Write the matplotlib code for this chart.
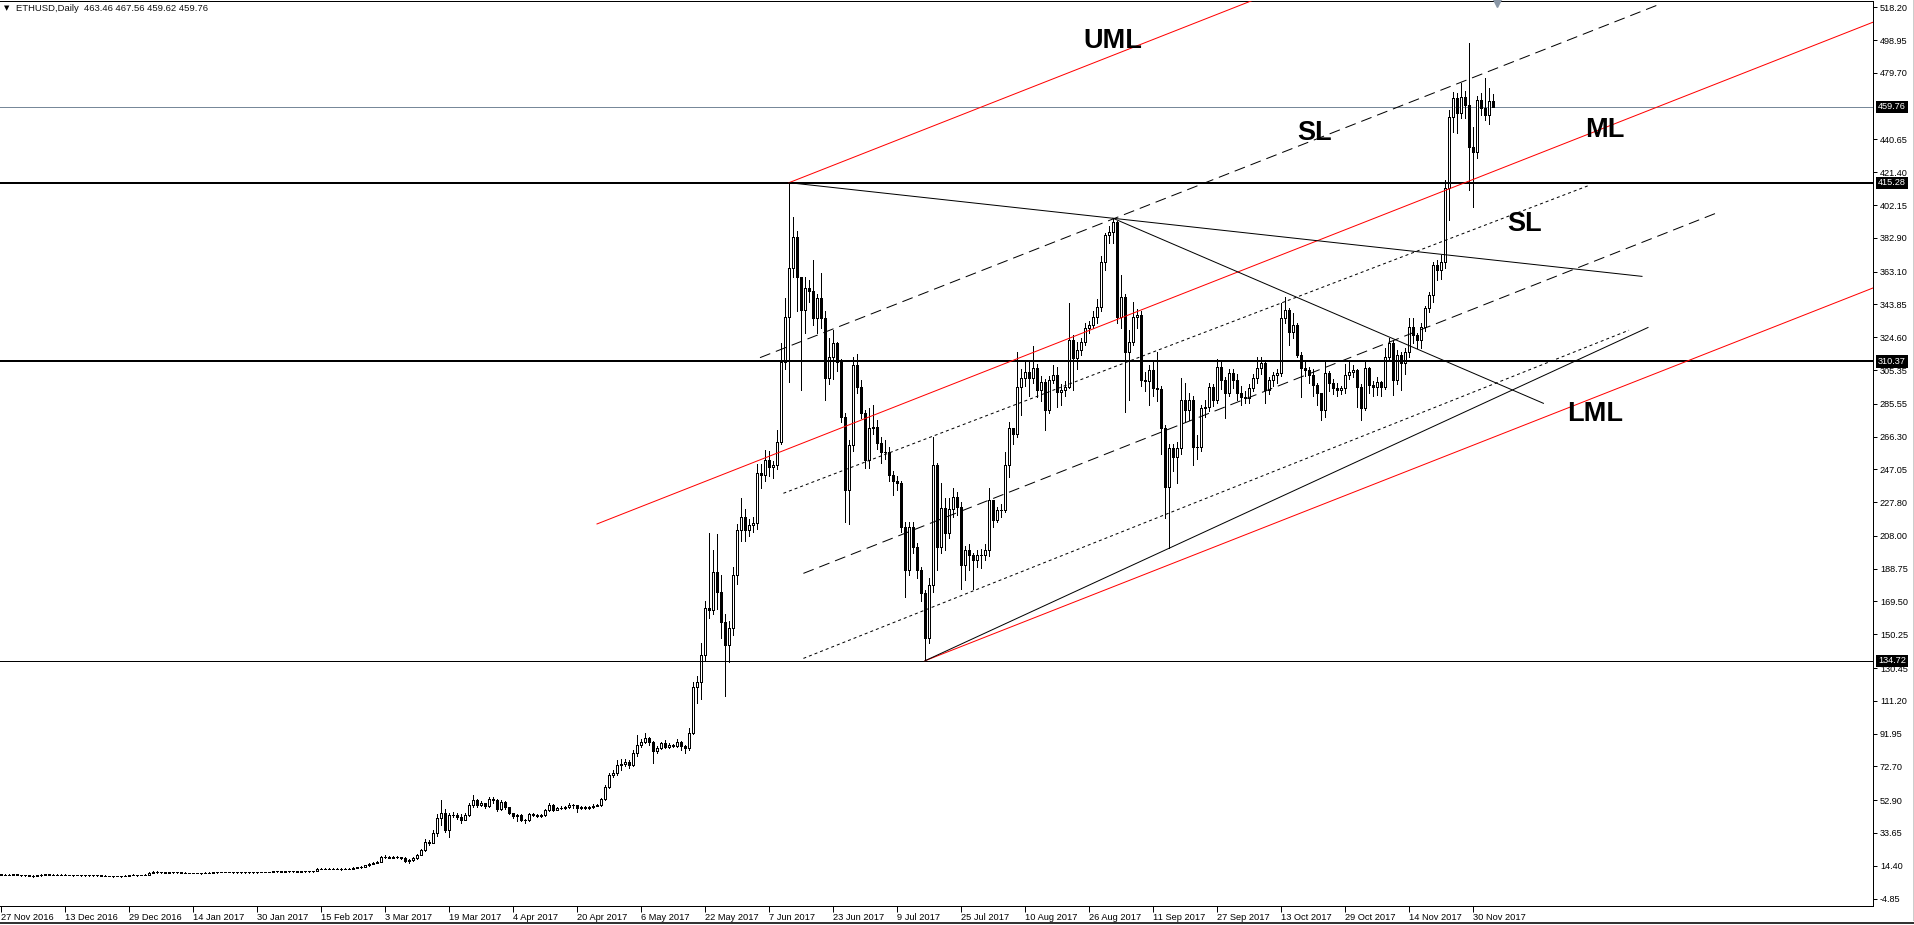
import numpy as np
import pandas as pd
import matplotlib
matplotlib.use("Agg")
import matplotlib.pyplot as plt
from matplotlib import transforms

plt.rcParams["font.family"] = ["Liberation Sans", "DejaVu Sans"]

# ---- ETHUSD daily candles (open = previous close) ----
FIRST_DAY = "2016-11-27"
FIRST_OPEN = 9.4

# 27 Nov - 31 Dec 2016
close_16 = [9.2, 9.0, 9.1, 9.3,
            9.1, 8.8, 8.7, 8.6, 8.4, 8.7, 9.2, 9.3, 9.2, 9.0, 9.1, 9.2, 9.1, 9.0, 8.8, 8.9,
            8.8, 8.8, 8.7, 8.7, 8.8, 8.6, 8.4, 8.4, 8.3, 8.4, 8.3, 8.5, 8.9, 9.0, 8.8]
high_16 = [9.5, 9.3, 9.3, 9.6,
           9.4, 9.2, 9.0, 8.9, 8.8, 8.9, 9.6, 9.7, 9.5, 9.3, 9.3, 9.5, 9.4, 9.2, 9.1, 9.1,
           9.0, 9.0, 8.9, 8.9, 9.0, 8.9, 8.7, 8.6, 8.6, 8.6, 8.5, 8.7, 9.2, 9.3, 9.1]
low_16 = [8.9, 8.8, 8.8, 9.0,
          8.9, 8.6, 8.5, 8.3, 8.1, 8.3, 8.6, 9.0, 8.9, 8.8, 8.9, 8.9, 8.9, 8.8, 8.6, 8.7,
          8.6, 8.6, 8.5, 8.5, 8.6, 8.4, 8.2, 8.2, 8.1, 8.2, 8.1, 8.2, 8.4, 8.7, 8.6]

# Jan - Mar 2017
close_q1 = [9.0, 9.1, 10.3, 11.0, 10.6, 10.7, 10.4, 10.6, 10.5, 10.6, 10.3, 10.2, 10.2, 10.1, 10.1, 10.0,
            10.3, 10.4, 10.5, 10.6, 10.8, 10.7, 10.7, 10.5, 10.6, 10.6, 10.5, 10.5, 10.5, 10.6, 10.7,
            10.8, 10.8, 11.1, 11.1, 11.0, 11.1, 11.2, 11.1, 10.9, 11.2, 11.2, 11.2, 11.2, 12.8,
            12.7, 12.8, 12.7, 12.8, 12.8, 12.5, 12.7, 12.8, 13.1, 13.4, 13.8, 14.6, 15.4, 16.0,
            16.8, 19.7, 19.5, 19.2, 19.5, 19.6, 19.2, 17.0, 17.6, 18.7, 20.7, 23.7, 28.6, 28.0,
            33.4, 42.2, 45.5, 35.4, 44.2, 44.2, 43.2, 41.3, 44.2, 50.1, 53.0, 50.1, 51.0, 49.5,
            53.4, 53.2, 47.5]
high_q1 = [9.2, 9.3, 10.6, 11.6, 11.1, 11.0, 10.8, 10.9, 10.8, 10.9, 10.7, 10.5, 10.4, 10.4, 10.3, 10.3,
           10.5, 10.6, 10.7, 10.8, 11.0, 11.0, 10.9, 10.8, 10.8, 10.8, 10.7, 10.7, 10.7, 10.8, 10.9,
           11.0, 11.0, 11.4, 11.4, 11.3, 11.4, 11.5, 11.4, 11.2, 11.4, 11.4, 11.4, 11.5, 13.2,
           13.1, 13.1, 13.0, 13.1, 13.1, 12.9, 13.0, 13.1, 13.4, 13.8, 14.3, 15.0, 15.9, 16.5,
           17.5, 20.3, 20.5, 19.9, 19.9, 20.2, 19.8, 19.3, 18.4, 19.4, 21.4, 24.3, 30.0, 29.5,
           35.5, 45.0, 53.0, 47.5, 45.5, 46.0, 45.5, 44.5, 45.5, 51.5, 55.9, 53.5, 52.5, 51.5,
           54.5, 54.8, 53.5]
low_q1 = [8.7, 8.9, 9.0, 10.1, 10.2, 10.4, 10.2, 10.3, 10.3, 10.3, 10.1, 10.0, 10.0, 9.9, 9.9, 9.8,
          10.0, 10.2, 10.3, 10.4, 10.5, 10.5, 10.5, 10.3, 10.4, 10.4, 10.3, 10.3, 10.3, 10.4, 10.5,
          10.6, 10.6, 10.7, 10.9, 10.8, 10.9, 11.0, 10.9, 10.6, 10.8, 11.0, 11.0, 11.0, 11.1,
          12.4, 12.5, 12.4, 12.5, 12.5, 12.2, 12.4, 12.5, 12.7, 13.0, 13.3, 13.7, 14.4, 15.2,
          15.8, 16.6, 18.8, 18.7, 18.9, 19.1, 18.6, 16.6, 16.2, 17.3, 18.5, 20.5, 22.8, 26.8,
          27.5, 32.0, 38.3, 34.0, 31.5, 42.8, 42.0, 39.5, 41.0, 43.8, 49.0, 49.0, 49.5, 48.5,
          49.0, 51.5, 46.5]

# Apr - Jun 2017
close_q2 = [52.0, 48.7, 45.2, 43.6, 44.0, 41.3, 41.0, 44.8, 44.2, 43.8, 44.0, 47.1, 50.1, 47.1, 48.6,
            48.5, 48.7, 50.1, 49.8, 48.1, 49.0, 48.6, 48.7, 49.7, 49.8, 53.4, 60.8, 67.7, 68.7, 73.5,
            74.1, 75.5, 73.5, 80.4, 85.3, 87.2, 89.2, 87.2, 81.9, 83.3, 86.3, 84.3, 85.3, 84.8, 87.2,
            84.7, 83.3, 92.1, 119.5, 122.4, 138.1, 165.5, 164.5, 187.0, 175.2, 157.6, 144.0, 153.8,
            185.0, 211.5, 219.3,
            211.5, 214.4, 215.5, 244.7, 244.0, 252.5, 248.6, 249.5, 263.3, 310.2, 336.6, 365.0, 383.6,
            360.1, 340.6, 353.3, 352.0, 335.7, 347.4, 335.7, 300.5, 313.2, 321.0, 310.2, 277.9, 234.9,
            261.3, 308.3, 295.6, 279.9]
high_q2 = [53.0, 52.5, 49.0, 45.5, 45.0, 44.5, 42.0, 45.5, 45.5, 44.8, 44.8, 48.0, 51.0, 50.5, 49.0,
           49.2, 49.3, 51.5, 50.8, 50.0, 49.6, 49.3, 49.2, 50.5, 50.6, 54.2, 62.0, 69.0, 70.5, 76.5,
           77.0, 77.0, 76.5, 82.5, 91.0, 89.0, 92.1, 89.8, 87.5, 84.5, 87.2, 88.5, 86.2, 86.0, 89.0,
           87.8, 85.0, 95.0, 122.0, 126.0, 145.0, 170.0, 209.5, 199.7, 209.0, 185.0, 162.0, 158.0,
           190.0, 215.0, 230.0,
           224.0, 218.0, 219.0, 250.0, 250.0, 258.5, 258.0, 252.0, 270.0, 321.0, 347.5, 415.28, 395.3,
           387.0, 360.0, 360.0, 358.0, 370.0, 350.0, 362.0, 340.0, 324.0, 329.0, 322.0, 312.0, 280.0,
           264.0, 313.0, 315.0, 299.5]
low_q2 = [47.0, 48.0, 44.5, 42.5, 40.9, 40.5, 39.5, 40.5, 43.5, 43.0, 43.2, 43.5, 46.5, 46.5, 47.0,
          47.8, 48.0, 48.2, 48.2, 46.1, 47.5, 47.8, 47.9, 48.3, 49.2, 49.5, 52.8, 60.0, 66.5, 67.5,
          70.5, 73.0, 72.0, 73.0, 79.0, 84.0, 86.5, 85.5, 74.9, 80.5, 82.8, 83.5, 83.5, 84.0, 84.0,
          82.5, 80.4, 82.5, 91.5, 110.0, 112.0, 135.0, 160.0, 162.0, 165.0, 148.0, 114.0, 134.0,
          150.0, 180.0, 205.0,
          205.0, 208.0, 210.0, 212.0, 236.0, 240.0, 243.0, 242.0, 247.0, 262.0, 306.0, 298.5, 360.0,
          340.0, 293.6, 327.0, 345.0, 332.0, 327.0, 330.0, 288.0, 297.0, 300.0, 305.0, 275.0, 216.3,
          215.0, 258.0, 292.0, 277.0]

# Jul - Sep 2017
close_q3 = [252.5, 271.1, 272.0, 262.3, 257.4, 257.0, 243.7, 240.0, 239.0, 213.4, 188.0, 213.4, 201.6,
            188.0, 174.3, 147.9, 179.2, 249.6, 201.6, 224.2, 209.5, 224.0, 231.0, 225.0, 190.9, 199.7,
            196.8, 193.8, 196.5, 197.0, 199.7,
            229.1, 217.3, 223.2, 223.0, 249.6, 271.1, 268.0, 295.6, 300.5, 304.4, 300.5, 306.3, 293.6,
            298.5, 281.8, 299.5, 302.4, 292.6, 293.6, 295.6, 322.9, 312.2, 317.1, 322.0, 329.8, 331.8,
            336.6, 342.5, 369.0, 384.6, 386.5,
            392.4, 336.6, 348.4, 316.1, 322.0, 336.6, 337.6, 299.5, 299.0, 305.3, 294.6, 294.0, 271.1,
            236.9, 259.4, 254.5, 259.4, 287.7, 281.9, 287.7, 260.4, 260.0, 282.8, 283.8, 295.6, 287.7,
            307.3, 299.5, 291.7, 303.4]
high_q3 = [282.0, 283.0, 285.0, 276.0, 266.0, 264.0, 260.0, 246.0, 243.0, 240.0, 216.0, 216.0, 216.0,
           204.0, 190.0, 176.0, 183.0, 266.0, 251.0, 239.0, 230.0, 230.0, 236.0, 234.0, 228.0, 202.0,
           203.0, 198.0, 200.0, 200.5, 203.0,
           236.0, 226.0, 225.0, 227.0, 257.4, 275.0, 271.5, 316.0, 306.0, 310.0, 311.0, 319.4, 309.0,
           302.0, 300.0, 302.0, 308.0, 307.0, 297.0, 299.0, 344.5, 326.0, 322.0, 324.0, 333.0, 334.0,
           340.0, 347.0, 372.0, 386.0, 390.0,
           394.4, 393.0, 361.0, 350.0, 329.0, 345.5, 341.0, 340.0, 304.0, 308.0, 311.2, 316.0, 296.0,
           273.0, 262.0, 262.0, 263.0, 300.5, 298.0, 292.0, 290.0, 267.0, 285.0, 288.0, 298.0, 297.0,
           312.0, 310.0, 301.0, 306.0]
low_q3 = [248.0, 248.0, 268.0, 259.0, 250.5, 253.0, 240.5, 232.0, 235.0, 210.0, 172.3, 185.0, 198.0,
          183.0, 170.0, 134.72, 145.0, 175.0, 188.0, 198.0, 200.0, 207.0, 219.0, 220.0, 177.0, 182.0,
          188.0, 177.0, 190.0, 189.0, 194.0,
          196.0, 213.0, 216.0, 219.0, 222.0, 242.7, 262.0, 266.0, 279.0, 296.0, 290.0, 298.0, 289.7,
          287.0, 270.0, 280.0, 298.0, 283.8, 284.8, 290.0, 295.0, 293.6, 306.0, 314.0, 320.0, 327.0,
          330.0, 333.0, 340.0, 364.0, 380.0,
          380.0, 333.0, 330.0, 280.9, 287.7, 320.0, 330.0, 296.0, 293.0, 284.8, 290.0, 287.0, 256.0,
          218.3, 200.7, 246.0, 238.8, 256.0, 275.0, 276.0, 249.6, 253.0, 258.0, 278.0, 281.0, 284.0,
          286.0, 294.0, 277.0, 290.0]

# Oct - 5 Dec 2017
close_q4 = [299.5, 291.7, 289.7, 288.7, 294.6, 300.5, 306.3, 309.3, 293.6, 299.5, 302.4, 303.4, 335.7,
            340.6, 327.8, 331.8, 314.2, 306.3, 305.4, 302.4, 296.6, 291.7, 281.9, 303.4, 297.5, 294.6,
            293.6, 294.6, 302.4, 304.4, 305.4,
            295.6, 282.9, 306.3, 296.6, 295.6, 298.5, 295.6, 313.2, 321.0, 299.5, 314.2, 309.3, 316.1,
            330.8, 325.9, 323.0, 330.8, 341.5, 349.4, 367.0, 364.0, 368.9, 412.0, 454.0, 464.8, 456.0,
            465.7, 460.9, 436.4, 433.5,
            463.8, 459.0, 455.0, 463.46, 459.76]
high_q4 = [306.0, 303.0, 296.0, 293.0, 297.0, 303.0, 313.0, 313.0, 310.0, 301.0, 304.0, 306.0, 344.5,
           348.4, 342.0, 339.0, 333.0, 316.0, 311.0, 307.0, 306.0, 298.0, 292.0, 310.0, 305.0, 300.0,
           298.0, 296.0, 309.0, 311.0, 308.0,
           306.0, 297.0, 310.0, 307.0, 299.0, 301.0, 299.0, 318.0, 324.0, 323.0, 317.0, 316.0, 318.0,
           335.7, 336.0, 327.0, 333.0, 343.0, 351.0, 369.0, 370.0, 373.0, 417.0, 458.0, 468.7, 468.0,
           473.7, 469.0, 497.0, 448.0,
           466.0, 468.0, 476.5, 470.6, 467.56]
low_q4 = [295.0, 288.0, 285.0, 286.0, 286.0, 293.0, 298.0, 303.0, 285.8, 291.0, 296.0, 298.0, 302.0,
          333.0, 320.0, 324.0, 313.0, 289.7, 302.0, 298.0, 290.0, 285.0, 276.0, 278.0, 293.0, 291.0,
          290.0, 291.0, 292.0, 300.0, 301.0,
          283.8, 276.0, 282.0, 292.0, 290.0, 290.7, 290.0, 294.0, 311.0, 290.7, 297.0, 293.6, 303.0,
          313.0, 321.0, 318.0, 318.0, 328.0, 339.6, 345.5, 358.0, 359.0, 365.0, 393.4, 445.0, 444.7,
          453.0, 453.0, 411.0, 401.2,
          430.0, 455.0, 452.0, 450.0, 459.62]

# right price scale labels and the marked levels
y_ticks = [518.20, 498.95, 479.70, 440.65, 421.40, 402.15, 382.90, 363.10, 343.85, 324.60,
           305.35, 285.55, 266.30, 247.05, 227.80, 208.00, 188.75, 169.50, 150.25, 130.45,
           111.20, 91.95, 72.70, 52.90, 33.65, 14.40, -4.85]
levels = [415.28, 310.37, 134.72]
bid = 459.76

# pitchfork pivots (day index, price)
fork_p1 = (149, 215.0)
fork_p2 = (197, 415.28)
fork_p3 = (231, 134.72)

# other drawn lines: (start day, start price, end day, end price)
sl_upper_dash = (189.75, 312.6, 414.0, 519.4)
sl_mid_dash = (200.6, 186.0, 429.0, 397.6)
sl_upper_dot = (195.6, 233.0, 397.25, 413.9)
sl_lower_dot = (200.6, 136.1, 407.0, 328.7)
trend_tops = (197.0, 415.28, 410.25, 360.3)
trend_sep = (278.0, 394.4, 385.6, 285.8)
trend_lows = (231.0, 134.72, 411.75, 330.3)

closes = np.array(close_16 + close_q1 + close_q2 + close_q3 + close_q4)
highs = np.array(high_16 + high_q1 + high_q2 + high_q3 + high_q4)
lows = np.array(low_16 + low_q1 + low_q2 + low_q3 + low_q4)
opens = np.concatenate([[FIRST_OPEN], closes[:-1]])
dates = pd.date_range(FIRST_DAY, periods=len(closes), freq="D")
idx = np.arange(len(closes))

PX = 0.72  # one screen pixel in points
W, H = 1915, 925
fig = plt.figure(figsize=(W / 100, H / 100), dpi=100)
ax = fig.add_axes([0, 1 - 906 / H, 1873 / W, 905 / H])
XMAX = 468.0
ax.set_xlim(-0.25, XMAX)
ax.set_ylim(-9.2, 521.9)

# --- candles ---
hi = np.maximum(highs, np.maximum(opens, closes))
lo = np.minimum(lows, np.minimum(opens, closes))
ax.vlines(idx, lo, hi, colors="black", lw=PX, antialiased=False, zorder=3)
up = closes >= opens
b_lo = np.minimum(opens, closes)
b_h = np.abs(closes - opens)
ax.bar(idx[up], b_h[up], bottom=b_lo[up], width=0.5, facecolor="white",
       edgecolor="black", lw=PX, antialiased=False, zorder=4)
ax.bar(idx[~up], b_h[~up], bottom=b_lo[~up], width=0.5, facecolor="black",
       edgecolor="black", lw=PX, antialiased=False, zorder=4)

# --- horizontal levels ---
ax.axhline(levels[0], color="black", lw=2 * PX, zorder=5)
ax.axhline(levels[1], color="black", lw=2 * PX, zorder=5)
ax.axhline(levels[2], color="black", lw=PX, zorder=5)
ax.axhline(bid, color="#778899", lw=PX, zorder=2)

# --- Andrews pitchfork ---
mid = ((fork_p2[0] + fork_p3[0]) / 2, (fork_p2[1] + fork_p3[1]) / 2)
slope = (mid[1] - fork_p1[1]) / (mid[0] - fork_p1[0])
for (x0, y0) in (fork_p1, fork_p2, fork_p3):
    ax.plot([x0, XMAX], [y0, y0 + slope * (XMAX - x0)], color="red", lw=PX, zorder=5)


def seg(line, **kw):
    x0, y0, x1, y1 = line
    ax.plot([x0, x1], [y0, y1], color="black", lw=PX, zorder=5, **kw)


seg(sl_upper_dash, dashes=(11, 6))
seg(sl_mid_dash, dashes=(11, 6))
seg(sl_upper_dot, dashes=(3, 3))
seg(sl_lower_dot, dashes=(3, 3))
seg(trend_tops)
seg(trend_sep)
seg(trend_lows)

# --- labels on the chart ---
lab = dict(fontsize=19.5, fontweight="bold", color="black", ha="center", va="center", zorder=6)
ax.text(278.0, 498.5, "UML", **lab)
ax.text(328.5, 444.7, "SL", **lab)
ax.text(401.0, 446.0, "ML", **lab)
ax.text(381.0, 390.8, "SL", **lab)
ax.text(398.5, 279.8, "LML", **lab)

# --- axes styling ---
ax.spines["left"].set_visible(False)
for s in ("top", "bottom", "right"):
    ax.spines[s].set_linewidth(PX)
ax.yaxis.tick_right()
ax.set_yticks(y_ticks)
ax.set_yticklabels([f"{v:.2f}" for v in y_ticks])
ax.tick_params(axis="y", direction="out", length=3, width=PX, pad=2, labelsize=6.6)
tick_idx = idx[::16]
ax.set_xticks(tick_idx)
ax.set_xticklabels([f"{d.day} {d:%b %Y}" for d in dates[tick_idx]], ha="left")
ax.tick_params(axis="x", direction="out", length=4, width=PX, pad=1, labelsize=6.7)

# price boxes on the right scale
tr = transforms.blended_transform_factory(fig.transFigure, ax.transData)
for v in [bid] + levels:
    ax.text(1878 / W, v, f"{v:.2f}", transform=tr, fontsize=6.6, color="white",
            ha="left", va="center", clip_on=False, zorder=10,
            bbox=dict(boxstyle="square,pad=0.18", fc="black", ec="none"))

# header and window furniture
fig.text(4 / W, 1 - 8 / H, "\u25bc", fontsize=5, family="DejaVu Sans", va="center")
fig.text(16 / W, 1 - 8.5 / H, "ETHUSD,Daily  463.46 467.56 459.62 459.76",
         fontsize=6.8, va="center", color="#111111")
fig.lines.append(plt.Line2D([1496.5 / W], [1 - 2.5 / H], marker="v", ms=6, color="#8a97a6",
                            transform=fig.transFigure))
fig.lines.append(plt.Line2D([0, 1], [1 - 923 / H] * 2, color="#333333", lw=2 * PX,
                            transform=fig.transFigure))
fig.lines.append(plt.Line2D([1913 / W] * 2, [1 - 920 / H, 1], color="#cccccc", lw=PX,
                            transform=fig.transFigure))

fig.savefig("out.png", dpi=100)
